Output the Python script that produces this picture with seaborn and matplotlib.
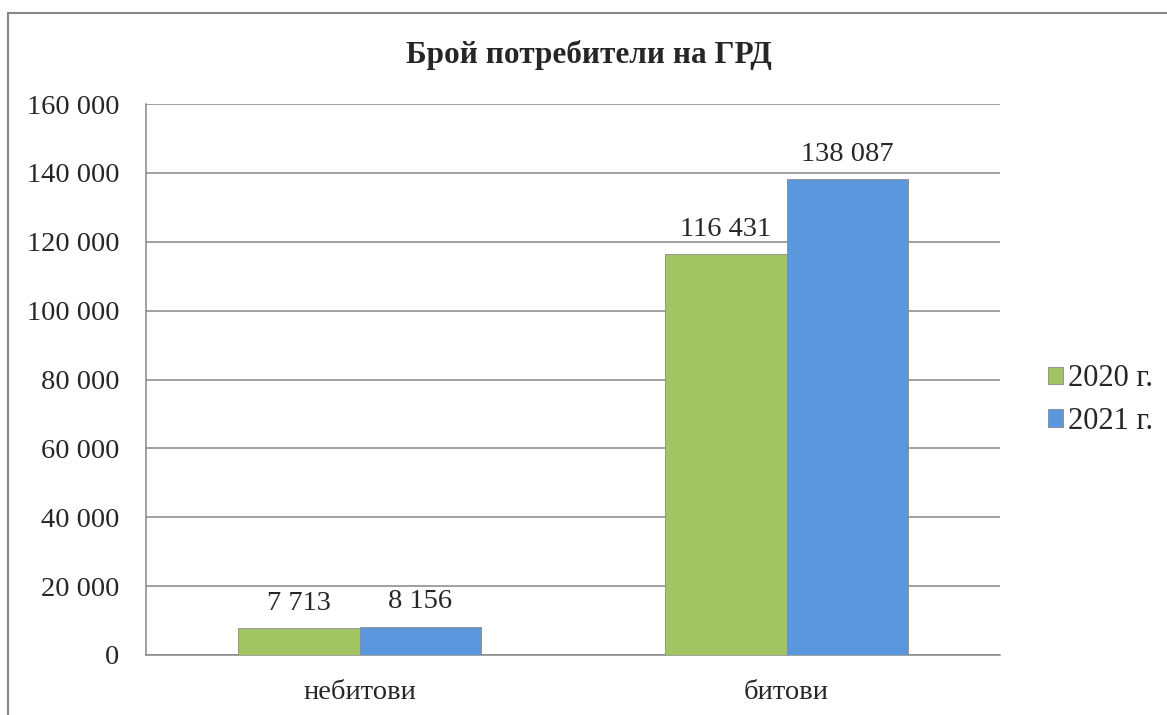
import pandas as pd
import matplotlib
matplotlib.use("Agg")
import matplotlib.pyplot as plt
import seaborn as sns
from matplotlib.patches import Rectangle

# data
categories = ["небитови", "битови"]
years = ["2020 г.", "2021 г."]
values_2020 = [7713, 116431]
values_2021 = [8156, 138087]
y_ticks = [0, 20000, 40000, 60000, 80000, 100000, 120000, 140000, 160000]

df = pd.DataFrame({
    "category": categories * 2,
    "year": [years[0]] * 2 + [years[1]] * 2,
    "value": values_2020 + values_2021,
})

sns.set_style("white")
plt.rcParams["font.family"] = ["Liberation Serif", "DejaVu Serif"]

fig = plt.figure(figsize=(11.67, 7.15), dpi=100)
ax = fig.add_axes([146 / 1167, 1 - 655 / 715, (1000 - 146) / 1167, (655 - 104) / 715])

palette = {years[0]: "#A2C462", years[1]: "#5B97DD"}
sns.barplot(data=df, x="category", y="value", hue="year", order=categories,
            hue_order=years, palette=palette, width=0.57, saturation=1,
            edgecolor="#8a8a8a", linewidth=0.6, ax=ax, zorder=3)

ax.set_ylim(0, 160000)
ax.set_yticks(y_ticks)
ax.set_yticklabels([f"{v:,}".replace(",", " ") for v in y_ticks], fontsize=20.5)
ax.set_xlim(-0.5, 1.5)
ax.tick_params(axis="x", labelsize=20.5, length=0, pad=18)
ax.tick_params(axis="y", length=0, pad=19)
ax.set_xlabel("")
ax.set_ylabel("")
ax.yaxis.grid(True, color="#878787", linewidth=1.1, zorder=0)
ax.set_axisbelow(True)
for side in ["top", "right"]:
    ax.spines[side].set_visible(False)
for side in ["left", "bottom"]:
    ax.spines[side].set_color("#878787")
    ax.spines[side].set_linewidth(1.1)

# value labels
for cont in ax.containers:
    ax.bar_label(cont, labels=[f"{int(v):,}".replace(",", " ") for v in cont.datavalues],
                 fontsize=20.5, padding=9)

fig.text(589 / 1167, 1 - 55 / 715, "Брой потребители на ГРД", ha="center",
         va="center", fontsize=22.5, fontweight="bold")

leg = ax.legend(loc="center left", bbox_to_anchor=(1048 / 1167, 1 - 400 / 715),
                bbox_transform=fig.transFigure, frameon=False, fontsize=22,
                handlelength=0.5, handleheight=0.5, handletextpad=0.16,
                labelspacing=0.45, borderpad=0, borderaxespad=0)

# outer chart border
fig.patches.append(Rectangle((8 / 1167, -0.1), 1.2, 1 - 13 / 715 + 0.1,
                             transform=fig.transFigure, fill=False,
                             edgecolor="#878787", linewidth=1.5))

fig.savefig("out.png", dpi=100)
